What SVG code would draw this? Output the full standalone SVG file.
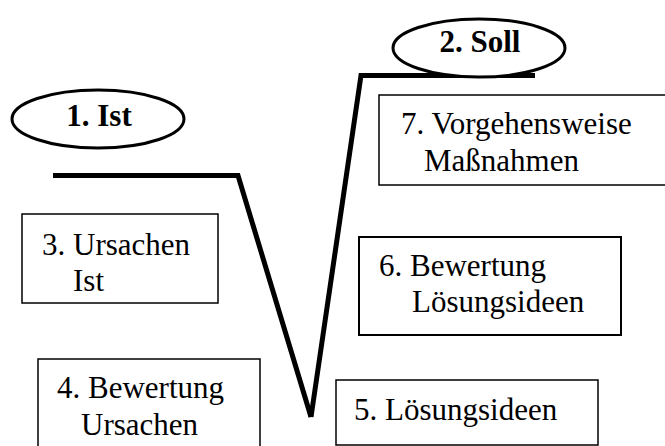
<svg xmlns="http://www.w3.org/2000/svg" width="665" height="446" viewBox="0 0 665 446">
<style>
.box{fill:#fff;stroke:#000;stroke-width:1.5}
.ell{fill:#fff;stroke:#000;stroke-width:3}
text{font-family:'Times New Roman','Liberation Serif','DejaVu Serif',serif;font-size:31px;fill:#000}
.b{font-weight:bold}
.ln{fill:none;stroke:#000;stroke-width:5;stroke-linejoin:miter}
</style>
<rect width="665" height="446" fill="#fff"/>
<g id="connectors">
<polyline class="ln" points="53,175.5 238,175.5 311,417"/>
<polyline class="ln" points="311,417 361,75.5 535,75.5"/>
</g>
<g id="n1">
<ellipse class="ell" cx="98" cy="119" rx="86" ry="29"/>
<text class="b" x="99" y="126" text-anchor="middle">1. Ist</text>
</g>
<g id="n2">
<ellipse class="ell" cx="479" cy="48" rx="86" ry="29"/>
<text class="b" x="480" y="52" text-anchor="middle">2. Soll</text>
</g>
<g id="n3">
<rect class="box" x="22" y="214" width="196" height="89"/>
<text x="42" y="255">3. Ursachen</text>
<text x="73" y="291">Ist</text>
</g>
<g id="n4">
<rect class="box" x="38" y="359" width="222" height="100"/>
<text x="57" y="398">4. Bewertung</text>
<text x="81" y="435">Ursachen</text>
</g>
<g id="n5">
<rect class="box" x="336" y="380" width="262" height="65"/>
<text x="354" y="420">5. Lösungsideen</text>
</g>
<g id="n6">
<rect class="box" x="359" y="237" width="262" height="98" style="stroke-width:2"/>
<text x="379" y="276">6. Bewertung</text>
<text x="412" y="312">Lösungsideen</text>
</g>
<g id="n7">
<rect class="box" x="379" y="95" width="300" height="90"/>
<text x="401" y="134">7. Vorgehensweise</text>
<text x="424" y="171">Maßnahmen</text>
</g>
</svg>
